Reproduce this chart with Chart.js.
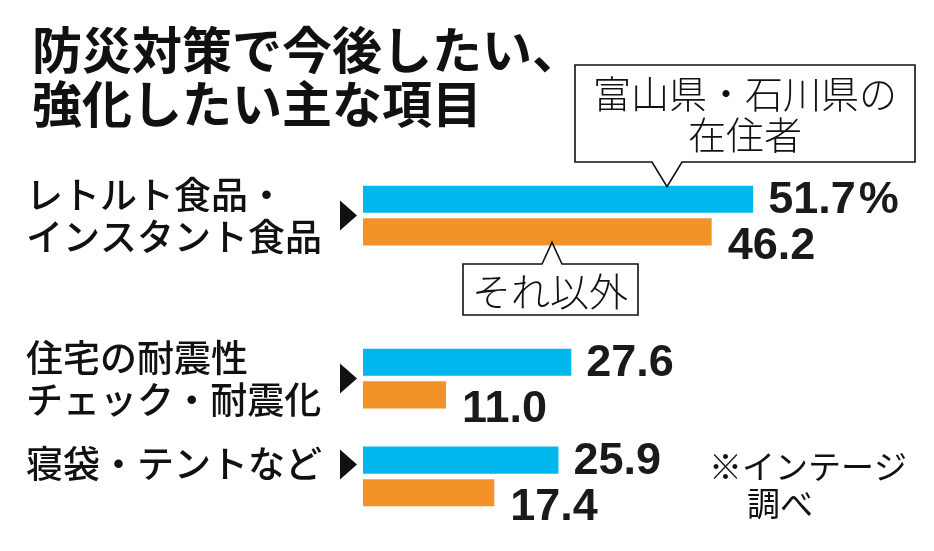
<!DOCTYPE html>
<html><head><meta charset="utf-8">
<script src="https://cdn.jsdelivr.net/npm/chart.js@4"></script>
<style>html,body{margin:0;padding:0;background:#fff;} #wrap{width:934px;height:551px;position:relative}</style>
</head><body><div id="wrap"><canvas id="c" width="934" height="551"></canvas></div>
<script>
// ---- data ----
const titleLines = ["防災対策で今後したい、", "強化したい主な項目"];
const categories = [["レトルト食品・", "インスタント食品"], ["住宅の耐震性", "チェック・耐震化"], ["寝袋・テントなど"]];
const seriesNames = [["富山県・石川県の", "在住者"], ["それ以外"]];
const toyamaIshikawa = [51.7, 27.6, 25.9];
const others = [46.2, 11.0, 17.4];
const sourceLines = ["※インテージ", "調べ"];

// ---- layout (not data) ----
const gapRowsAfter = [3, 1];          // empty rows between groups
const labelShift = [0, 0, -12];       // vertical nudge of category labels
const COL_A = '#00B7EE', COL_B = '#F39226';
const CJK = '"Noto Sans CJK JP", "Noto Sans CJK SC", sans-serif';

// build row table for the library
const rows = [];
categories.forEach((c, g) => {
  rows.push({ g, s: 0 });
  rows.push({ g, s: 1 });
  if (g < gapRowsAfter.length) for (let k = 0; k < gapRowsAfter[g]; k++) rows.push({ g: -1, s: -1 });
});
const rowLabels = rows.map((r, i) => r.g >= 0 ? categories[r.g].join('') + '#' + r.s : 'gap' + i);
const dataA = rows.map(r => r.s === 0 ? toyamaIshikawa[r.g] : null);
const dataB = rows.map(r => r.s === 1 ? others[r.g] : null);

const fmt = v => v.toFixed(1);

const overlay = {
  id: 'overlay',
  afterDatasetsDraw(chart) {
    const ctx = chart.ctx;
    const mA = chart.getDatasetMeta(0).data;
    const mB = chart.getDatasetMeta(1).data;
    const barsA = [], barsB = [];
    rows.forEach((r, i) => { if (r.s === 0) barsA[r.g] = mA[i]; if (r.s === 1) barsB[r.g] = mB[i]; });
    ctx.save();
    // title
    ctx.fillStyle = '#111';
    ctx.font = `bold 50px ${CJK}`;
    ctx.textBaseline = 'middle';
    ctx.textAlign = 'left';
    ctx.fillText(titleLines[0], 32, 50);
    ctx.fillText(titleLines[1], 32, 104);

    // category labels + triangles
    categories.forEach((lines, g) => {
      const cy = (barsA[g].y + barsB[g].y) / 2 + labelShift[g];
      ctx.font = `500 37px ${CJK}`;
      ctx.fillStyle = '#111';
      const lh = 42;
      lines.forEach((t, k) => {
        ctx.fillText(t, 26, cy + (k - (lines.length - 1) / 2) * lh);
      });
      ctx.beginPath();
      ctx.moveTo(340, cy - 15);
      ctx.lineTo(357, cy);
      ctx.lineTo(340, cy + 15);
      ctx.closePath();
      ctx.fill();
    });

    // value labels
    ctx.font = `bold 45px "Liberation Sans", Arial, sans-serif`;
    ctx.fillStyle = '#1a1a1a';
    barsA.forEach((b, g) => {
      const t = fmt(toyamaIshikawa[g]);
      ctx.fillText(t, b.x + 15, b.y + 1);
      if (g === 0) {
        const w = ctx.measureText(t).width;
        ctx.fillText('%', b.x + 15 + w + 3, b.y + 1);
      }
    });
    barsB.forEach((b, g) => {
      ctx.fillText(fmt(others[g]), b.x + 16, b.y + 15);
    });

    // callouts
    ctx.lineWidth = 1.6;
    ctx.strokeStyle = '#111';
    const a0 = barsA[0];
    const apexAy = a0.y - a0.height / 2 + 1;
    ctx.beginPath();
    ctx.moveTo(575, 65); ctx.lineTo(915, 65); ctx.lineTo(915, 162);
    ctx.lineTo(682, 162); ctx.lineTo(667, apexAy); ctx.lineTo(652, 162);
    ctx.lineTo(575, 162); ctx.closePath();
    ctx.fillStyle = '#fff'; ctx.fill(); ctx.stroke();
    ctx.fillStyle = '#111';
    ctx.textAlign = 'center';
    ctx.font = `300 38px ${CJK}`;
    ctx.fillText(seriesNames[0][0], 745, 94);
    ctx.fillText(seriesNames[0][1], 745, 135);

    const b0 = barsB[0];
    const apexBy = b0.y + b0.height / 2 - 3;
    ctx.beginPath();
    ctx.moveTo(463, 264); ctx.lineTo(542, 264); ctx.lineTo(552, apexBy);
    ctx.lineTo(562, 264); ctx.lineTo(638, 264); ctx.lineTo(638, 315);
    ctx.lineTo(463, 315); ctx.closePath();
    ctx.fillStyle = '#fff'; ctx.fill(); ctx.stroke();
    ctx.fillStyle = '#111';
    ctx.font = `300 39px ${CJK}`;
    ctx.fillText(seriesNames[1][0], 550, 291);

    // source
    ctx.textAlign = 'left';
    ctx.font = `400 33px ${CJK}`;
    ctx.fillText(sourceLines[0], 709, 466);
    ctx.fillText(sourceLines[1], 747, 503);
    ctx.restore();
  }
};

new Chart(document.getElementById('c'), {
  type: 'bar',
  data: {
    labels: rowLabels,
    datasets: [
      { label: seriesNames[0].join(''), data: dataA, backgroundColor: COL_A, borderWidth: 0 },
      { label: seriesNames[1].join(''), data: dataB, backgroundColor: COL_B, borderWidth: 0 }
    ]
  },
  options: {
    indexAxis: 'y',
    responsive: false,
    animation: false,
    skipNull: true,
    categoryPercentage: 0.83,
    barPercentage: 1.0,
    layout: { padding: { left: 363, right: 5, top: 183, bottom: 42 } },
    scales: {
      x: { display: false, min: 0, max: 75 },
      y: { display: false }
    },
    plugins: { legend: { display: false }, tooltip: { enabled: false } }
  },
  plugins: [overlay]
});
</script>
</body></html>
